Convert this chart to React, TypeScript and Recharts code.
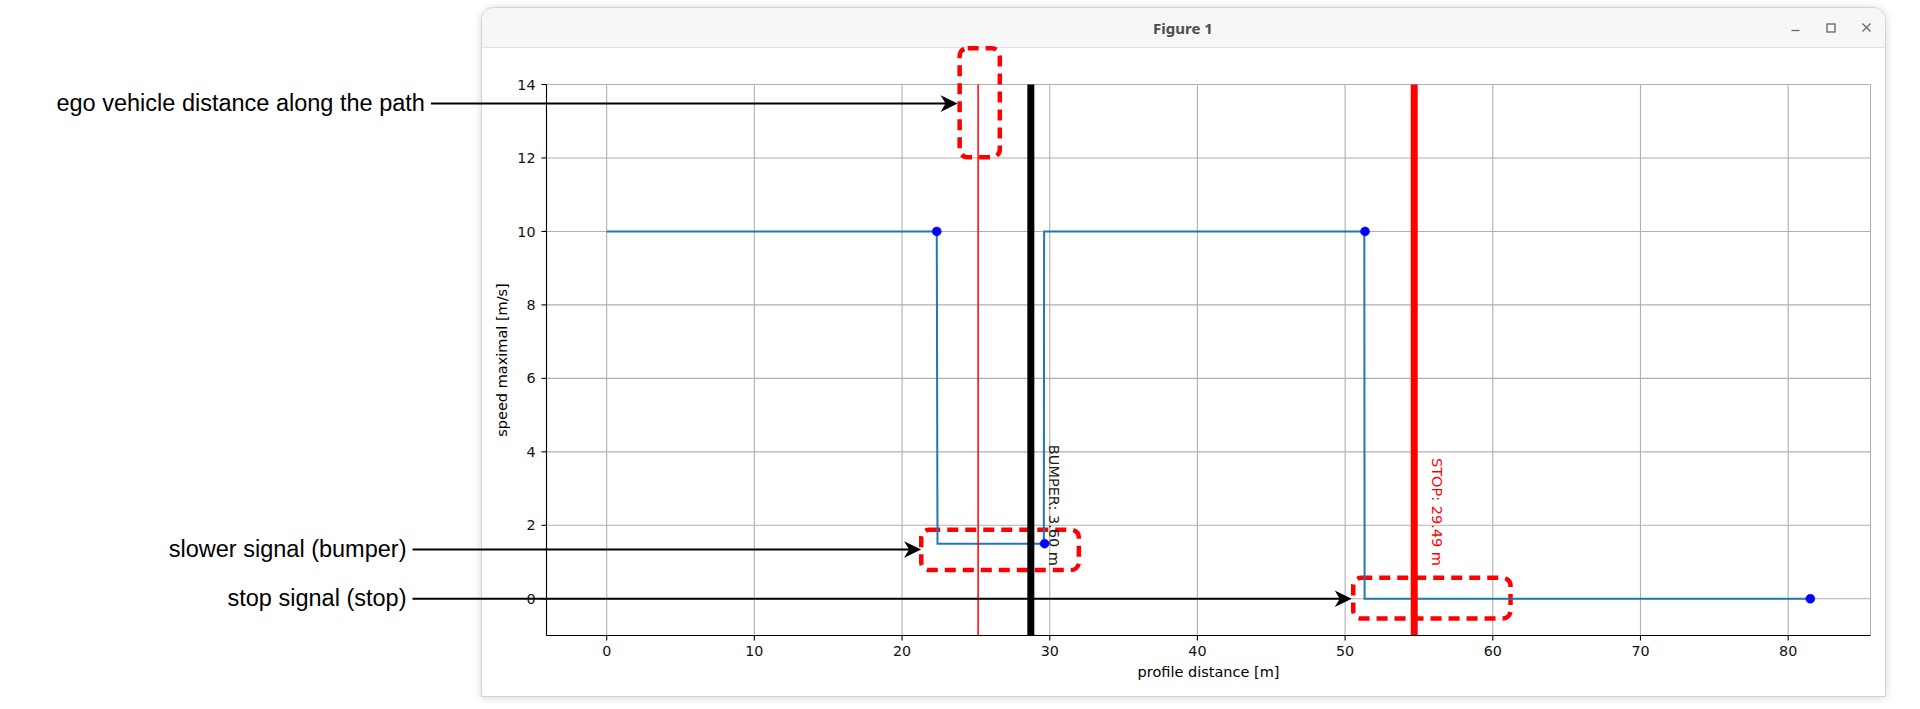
import React from 'react';
import {
  ComposedChart,
  Line,
  XAxis,
  YAxis,
  CartesianGrid,
  ReferenceLine,
  ReferenceArea,
  Label,
} from 'recharts';

// ---------- data ----------
const STEP_X = [0, 22.35, 22.4, 29.6, 29.62, 51.3, 51.32, 81.5];
const STEP_Y = [10, 10, 1.5, 1.5, 10, 10, 0, 0];
const MARK_X = [22.35, 29.65, 51.35, 81.5];
const MARK_Y = [10, 1.5, 10, 0];
const X_TICKS = [0, 10, 20, 30, 40, 50, 60, 70, 80];
const Y_TICKS = [0, 2, 4, 6, 8, 10, 12, 14];
const X_DOMAIN = [-4.075, 85.575];
const Y_DOMAIN = [-1, 14];

const EGO_X = 25.15;
const BUMPER_X = 28.72;
const STOP_X = 54.68;
const BUMPER_LABEL = 'BUMPER: 3.60 m';
const STOP_LABEL = 'STOP: 29.49 m';

const TITLE = '/nav/out';
const NOTE = 'Data from real experimentation';
const X_LABEL = 'profile distance [m]';
const Y_LABEL = 'speed maximal [m/s]';
const WINDOW_TITLE = 'Figure 1';

const ARROW_LABELS = ['ego vehicle distance along the path', 'slower signal (bumper)', 'stop signal (stop)'];
const ARROW_FROM_X = [-11.9, -13.15, -13.15];
const ARROW_TO_X = [23.76, 21.29, 50.45];
const ARROW_Y = [13.48, 1.34, 0.0];

const BOX_X1 = [23.9, 21.3, 50.55];
const BOX_X2 = [26.62, 31.97, 61.2];
const BOX_Y1 = [12.02, 0.78, -0.54];
const BOX_Y2 = [14.99, 1.88, 0.57];

const stepData = STEP_X.map((x, i) => ({ x, y: STEP_Y[i] }));
const markData = MARK_X.map((x, i) => ({ x, y: MARK_Y[i] }));

// ---------- styles ----------
const MPL_FONT = "'DejaVu Sans', Verdana, sans-serif";
const ANNOT_FONT = "'Liberation Sans', Arial, Helvetica, sans-serif";

const DashedBox = (props: any) => {
  const { x, y, width, height } = props;
  return (
    <rect
      x={x}
      y={y}
      width={width}
      height={height}
      rx={8}
      ry={8}
      fill="none"
      stroke="#ff0000"
      strokeWidth={4.5}
      strokeDasharray="11 7"
    />
  );
};

const makeArrow = (label: string) => (props: any) => {
  const { x1, y1, x2, y2 } = props;
  const L = 17;
  const HW = 8.3;
  const N = 5;
  return (
    <g>
      <line x1={x1} y1={y1} x2={x2 - 10} y2={y2} stroke="#000" strokeWidth={2} />
      <polygon
        points={`${x2},${y2} ${x2 - L},${y2 - HW} ${x2 - L + N},${y2} ${x2 - L},${y2 + HW}`}
        fill="#000"
      />
      <text
        x={x1 - 6}
        y={y1 + 7}
        textAnchor="end"
        fontFamily={ANNOT_FONT}
        fontSize={23.5}
        fill="#000"
      >
        {label}
      </text>
    </g>
  );
};

const makeVLine = (color: string, width: number, label: string, labelColor: string) => (props: any) => {
  const { x1, y1, x2, y2 } = props;
  const bottom = Math.max(y1, y2);
  const tx = x1 + 18;
  const ty = bottom - 69.5;
  return (
    <g>
      <line x1={x1} y1={y1} x2={x2} y2={y2} stroke={color} strokeWidth={width} />
      <text
        x={tx}
        y={ty}
        transform={`rotate(90, ${tx}, ${ty})`}
        textAnchor="end"
        fontFamily={MPL_FONT}
        fontSize={14.5}
        fill={labelColor}
      >
        {label}
      </text>
    </g>
  );
};

const TopLabel = (props: any) => {
  const vb = props.viewBox || {};
  const cx = vb.x + vb.width / 2;
  return (
    <g>
      <text x={cx} y={vb.y - 8.5} textAnchor="middle" fontFamily={MPL_FONT} fontSize={17.5} fill="#000">
        {TITLE}
      </text>
      <text x={vb.x + 938.5} y={75.5} textAnchor="start" fontFamily={ANNOT_FONT} fontSize={23.5} fill="#000">
        {NOTE}
      </text>
    </g>
  );
};

const XLabel = (props: any) => {
  const vb = props.viewBox || {};
  return (
    <text
      x={vb.x + vb.width / 2}
      y={vb.y + 41}
      textAnchor="middle"
      fontFamily={MPL_FONT}
      fontSize={14.5}
      fill="#000"
    >
      {X_LABEL}
    </text>
  );
};

const YLabel = (props: any) => {
  const vb = props.viewBox || {};
  const x = vb.x + 20;
  const y = vb.y + vb.height / 2;
  return (
    <text
      x={x}
      y={y}
      transform={`rotate(-90, ${x}, ${y})`}
      textAnchor="middle"
      fontFamily={MPL_FONT}
      fontSize={14.5}
      fill="#000"
    >
      {Y_LABEL}
    </text>
  );
};

const tickStyle = { fontSize: 14.3, fontFamily: MPL_FONT, fill: '#111' };

export default function App() {
  return (
    <div
      style={{
        position: 'absolute',
        left: 0,
        top: 0,
        width: 1920,
        height: 709,
        background: '#ffffff',
        overflow: 'hidden',
      }}
    >
      {/* window chrome */}
      <div
        style={{
          position: 'absolute',
          left: 481,
          top: 7,
          width: 1405,
          height: 690,
          background: '#ffffff',
          border: '1px solid #d4d4d4',
          borderRadius: '13px 13px 0 0',
          boxShadow: '0 1px 9px rgba(0,0,0,0.16)',
          boxSizing: 'border-box',
          overflow: 'hidden',
        }}
      >
        <div
          style={{
            height: 40,
            background: '#f7f7f7',
            borderBottom: '1px solid #e2e2e2',
            boxSizing: 'border-box',
          }}
        />
      </div>
      <svg
        width={1920}
        height={709}
        style={{ position: 'absolute', left: 0, top: 0, pointerEvents: 'none' }}
      >
        <text
          x={1183}
          y={34}
          textAnchor="middle"
          fontFamily="'Noto Sans', sans-serif"
          fontWeight={700}
          fontSize={15}
          fill="#4d4d4d"
        >
          {WINDOW_TITLE}
        </text>
        <line x1={1791.5} y1={30.5} x2={1799.5} y2={30.5} stroke="#666" strokeWidth={1.3} />
        <rect x={1827} y={24} width={8} height={8} fill="none" stroke="#666" strokeWidth={1.3} />
        <line x1={1862.5} y1={23.5} x2={1870.5} y2={31.5} stroke="#666" strokeWidth={1.3} />
        <line x1={1870.5} y1={23.5} x2={1862.5} y2={31.5} stroke="#666" strokeWidth={1.3} />
      </svg>

      <div style={{ position: 'absolute', left: 0, top: 0 }}>
        <ComposedChart
          width={1920}
          height={709}
          margin={{ top: 84.5, right: 49.5, bottom: 28.5, left: 486.5 }}
        >
          <CartesianGrid stroke="#b0b0b0" strokeWidth={1.1} />
          <XAxis
            dataKey="x"
            type="number"
            domain={X_DOMAIN}
            ticks={X_TICKS}
            allowDataOverflow
            height={45}
            tick={tickStyle}
            tickLine={{ stroke: '#000', strokeWidth: 1.1 }}
            axisLine={{ stroke: '#000', strokeWidth: 1.1 }}
            tickSize={5}
            tickMargin={5.5}
            interval={0}
          >
            <Label content={XLabel} />
          </XAxis>
          <XAxis
            xAxisId="top"
            orientation="top"
            dataKey="x"
            type="number"
            domain={X_DOMAIN}
            allowDataOverflow
            height={0}
            tick={false}
            tickLine={false}
            axisLine={{ stroke: '#000', strokeWidth: 1.1 }}
          >
            <Label content={TopLabel} />
          </XAxis>
          <YAxis
            type="number"
            domain={Y_DOMAIN}
            ticks={Y_TICKS}
            allowDataOverflow
            width={60}
            tick={tickStyle}
            tickLine={{ stroke: '#000', strokeWidth: 1.1 }}
            axisLine={{ stroke: '#000', strokeWidth: 1.1 }}
            tickSize={5}
            tickMargin={6}
            interval={0}
          >
            <Label content={YLabel} />
          </YAxis>
          <YAxis
            yAxisId="right"
            orientation="right"
            type="number"
            domain={Y_DOMAIN}
            allowDataOverflow
            width={0}
            tick={false}
            tickLine={false}
            axisLine={{ stroke: '#000', strokeWidth: 1.1 }}
          />

          <Line
            data={stepData}
            dataKey="y"
            type="linear"
            stroke="#1f77b4"
            strokeWidth={2}
            dot={false}
            activeDot={false}
            isAnimationActive={false}
          />
          <Line
            data={markData}
            dataKey="y"
            type="linear"
            stroke="none"
            dot={{ r: 4.5, fill: '#0000ff', stroke: '#0000ff', strokeWidth: 0.5 }}
            activeDot={false}
            isAnimationActive={false}
          />

          <ReferenceLine x={EGO_X} stroke="#ff0000" strokeWidth={1.5} ifOverflow="visible" />
          <ReferenceLine
            x={BUMPER_X}
            ifOverflow="visible"
            shape={makeVLine('#000000', 7, BUMPER_LABEL, '#1a1a1a')}
          />
          <ReferenceLine
            x={STOP_X}
            ifOverflow="visible"
            shape={makeVLine('#ff0000', 7, STOP_LABEL, '#ff0000')}
          />

          {BOX_X1.map((x1, i) => (
            <ReferenceArea
              key={`box-${i}`}
              x1={x1}
              x2={BOX_X2[i]}
              y1={BOX_Y1[i]}
              y2={BOX_Y2[i]}
              ifOverflow="visible"
              shape={DashedBox}
            />
          ))}

          {ARROW_LABELS.map((label, i) => (
            <ReferenceLine
              key={`arrow-${i}`}
              segment={[
                { x: ARROW_FROM_X[i], y: ARROW_Y[i] },
                { x: ARROW_TO_X[i], y: ARROW_Y[i] },
              ]}
              ifOverflow="visible"
              shape={makeArrow(label)}
            />
          ))}
        </ComposedChart>
      </div>
    </div>
  );
}
